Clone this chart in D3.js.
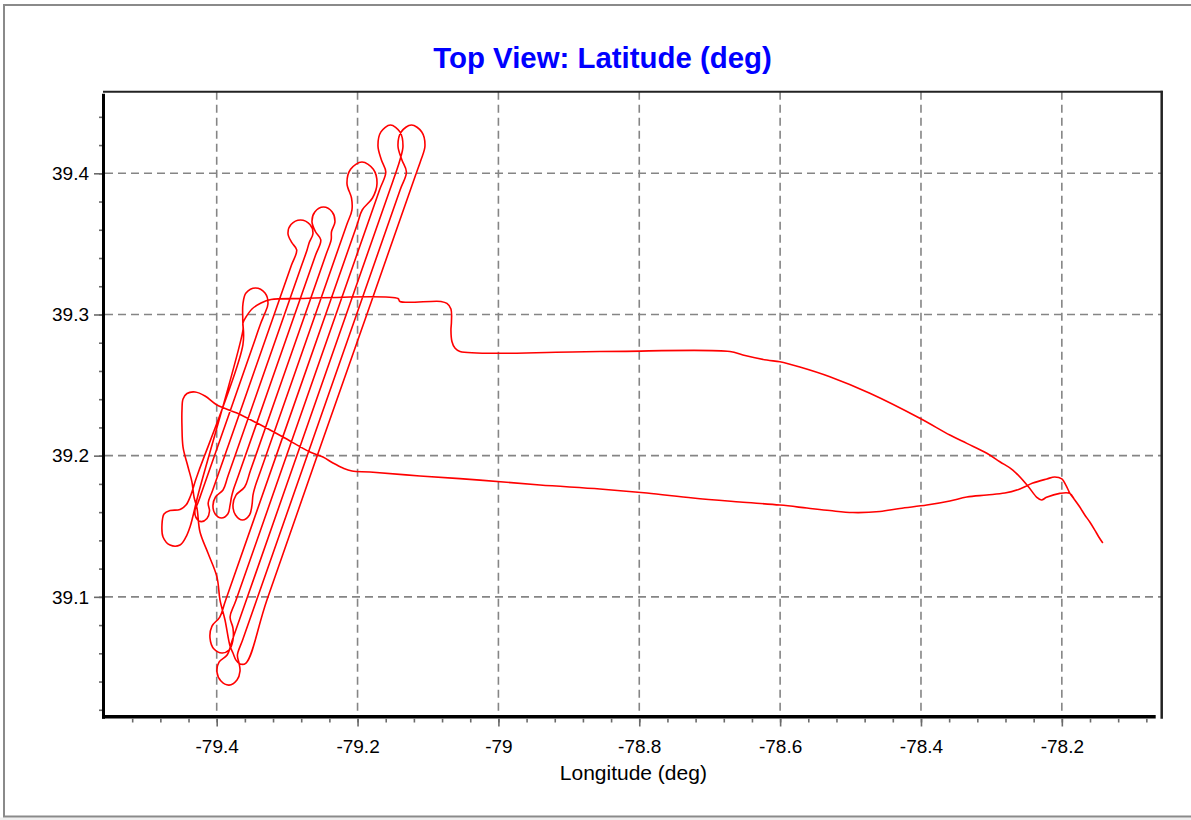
<!DOCTYPE html>
<html><head><meta charset="utf-8">
<script src="https://cdn.jsdelivr.net/npm/d3@7"></script>
<style>html,body{margin:0;padding:0;background:#fff;}svg{display:block;font-family:"Liberation Sans",Arial,sans-serif;}</style>
</head><body><svg id="chart" width="1191" height="820"></svg>
<script>
const chartTitle = "Top View: Latitude (deg)";
const xAxisTitle = "Longitude (deg)";
const xTickValues = [-79.4, -79.2, -79, -78.8, -78.6, -78.4, -78.2];
const xTickLabels = ["-79.4", "-79.2", "-79", "-78.8", "-78.6", "-78.4", "-78.2"];
const yTickValues = [39.1, 39.2, 39.3, 39.4];
const yTickLabels = ["39.1", "39.2", "39.3", "39.4"];
const xDomain = [-79.5586, -78.0582];
const yDomain = [39.0151, 39.4578];
const xMinorStep = 0.04, yMinorStep = 0.02;

// flight track, [longitude, latitude]
const legInbound = [
[-78.1418,39.1381],[-78.1475,39.1424],[-78.1532,39.1473],[-78.1603,39.1530],[-78.1674,39.1580],
[-78.1745,39.1636],[-78.1816,39.1686],[-78.1887,39.1735],[-78.1943,39.1792],[-78.2000,39.1835],
[-78.2100,39.1849],[-78.2213,39.1835],[-78.2412,39.1806],[-78.2596,39.1764],[-78.2809,39.1735],
[-78.3065,39.1721],[-78.3349,39.1707],[-78.3590,39.1679],[-78.3917,39.1650],[-78.4300,39.1626],
[-78.4584,39.1604],[-78.4967,39.1597],[-78.5294,39.1611],[-78.5620,39.1629],[-78.6003,39.1650],
[-78.6571,39.1672],[-78.7238,39.1700],[-78.7891,39.1735],[-78.8559,39.1764],[-78.9410,39.1792],
[-79.0262,39.1827],[-79.1114,39.1856],[-79.1824,39.1884],[-79.2079,39.1891],[-79.2207,39.1912],
[-79.2349,39.1948],[-79.2491,39.1990],[-79.2676,39.2026],[-79.3059,39.2132],[-79.3428,39.2231],
[-79.3712,39.2302],[-79.3996,39.2359],[-79.4166,39.2423],[-79.4308,39.2451],[-79.4422,39.2440],
[-79.4478,39.2401],[-79.4493,39.2323],[-79.4493,39.2203],[-79.4478,39.2061],[-79.4407,39.1920],
[-79.4351,39.1813],[-79.4322,39.1707],[-79.4280,39.1629],[-79.4237,39.1459],[-79.4124,39.1310],
[-79.3996,39.1140],[-79.3953,39.0977],[-79.3882,39.0836],[-79.3811,39.0652],[-79.3769,39.0602],
[-79.3726,39.0552],[-79.3669,39.0524],[-79.3584,39.0531]
];
const surveyLines = [
[-79.3287,39.0977],[-79.1796,39.3103],[-79.1250,39.3882],
[-79.1160,39.4009],[-79.1100,39.4094],[-79.1043,39.4193],[-79.1088,39.4293],[-79.1235,39.4342],
[-79.1381,39.4293],[-79.1426,39.4193],[-79.1370,39.4094],[-79.1306,39.4009],
[-79.1396,39.3882],[-79.1942,39.3103],[-79.3433,39.0977],[-79.3632,39.0694],
[-79.3706,39.0588],[-79.3683,39.0531],[-79.3669,39.0474],[-79.3712,39.0411],[-79.3825,39.0375],
[-79.3939,39.0404],[-79.3996,39.0467],[-79.3967,39.0538],[-79.3852,39.0588],
[-79.3778,39.0694],[-79.3579,39.0977],[-79.2089,39.3103],[-79.1542,39.3882],
[-79.1453,39.4009],[-79.1398,39.4094],[-79.1355,39.4193],[-79.1398,39.4293],[-79.1533,39.4342],
[-79.1668,39.4293],[-79.1710,39.4193],[-79.1661,39.4094],[-79.1599,39.4009],
[-79.1688,39.3882],[-79.2235,39.3103],[-79.3725,39.0977],
[-79.3810,39.0857],[-79.3769,39.0779],[-79.3769,39.0694],[-79.3825,39.0623],[-79.3925,39.0602],
[-79.4038,39.0630],[-79.4095,39.0708],[-79.4067,39.0793],[-79.3956,39.0857],
[-79.3872,39.0977],[-79.2381,39.3103],[-79.2008,39.3634],
[-79.1934,39.3740],[-79.1788,39.3825],[-79.1724,39.3927],[-79.1776,39.4029],[-79.1937,39.4080],
[-79.2099,39.4029],[-79.2150,39.3927],[-79.2086,39.3825],[-79.2080,39.3740],
[-79.2155,39.3634],[-79.2527,39.3103],[-79.3372,39.1898],
[-79.3456,39.1778],[-79.3485,39.1721],[-79.3499,39.1650],[-79.3534,39.1580],[-79.3634,39.1544],
[-79.3733,39.1580],[-79.3769,39.1650],[-79.3726,39.1721],[-79.3603,39.1778],
[-79.3518,39.1898],[-79.2673,39.3103],[-79.2450,39.3421],
[-79.2375,39.3528],[-79.2370,39.3586],[-79.2321,39.3656],[-79.2360,39.3726],[-79.2484,39.3761],
[-79.2607,39.3726],[-79.2647,39.3656],[-79.2597,39.3586],[-79.2522,39.3528],
[-79.2596,39.3421],[-79.2820,39.3103],[-79.3689,39.1863],
[-79.3764,39.1757],[-79.3790,39.1707],[-79.3811,39.1648],[-79.3840,39.1588],[-79.3932,39.1558],
[-79.4024,39.1588],[-79.4053,39.1648],[-79.4017,39.1707],[-79.3910,39.1757],
[-79.3835,39.1863],[-79.2966,39.3103],[-79.2792,39.3350],
[-79.2717,39.3457],[-79.2686,39.3510],[-79.2633,39.3574],[-79.2676,39.3637],[-79.2810,39.3669],
[-79.2945,39.3637],[-79.2988,39.3574],[-79.2935,39.3510],[-79.2864,39.3457],
[-79.2938,39.3350],[-79.3112,39.3103],[-79.4056,39.1757],
[-79.4121,39.1665],[-79.4102,39.1608],[-79.4138,39.1555],[-79.4223,39.1533],[-79.4294,39.1562],
[-79.4308,39.1615],[-79.4267,39.1665],
[-79.4202,39.1757],[-79.3457,39.2819],
[-79.3373,39.2940],[-79.3321,39.3003],[-79.3272,39.3076],[-79.3314,39.3152],[-79.3449,39.3188],
[-79.3584,39.3152],[-79.3627,39.3076],[-79.3630,39.2961],[-79.3628,39.2784],
[-79.4249,39.1898],[-79.4299,39.1827],[-79.4372,39.1714],[-79.4436,39.1650],[-79.4521,39.1618],
[-79.4663,39.1611],[-79.4748,39.1587],[-79.4777,39.1509],[-79.4762,39.1424],[-79.4663,39.1367],
[-79.4521,39.1367],[-79.4436,39.1424],[-79.4379,39.1495],[-79.4344,39.1558],
[-79.4265,39.1721],[-79.3627,39.2890],[-79.3627,39.2940]
];
const legOutbound = [
[-79.3584,39.2982],[-79.3499,39.3039],[-79.3371,39.3081],[-79.3229,39.3106],[-79.2818,39.3113],
[-79.1426,39.3113],[-79.1398,39.3092],[-79.0816,39.3092],[-79.0731,39.3078],[-79.0674,39.3039],
[-79.0667,39.2947],[-79.0674,39.2890],[-79.0660,39.2809],[-79.0617,39.2762],[-79.0546,39.2738],
[-78.8559,39.2738],[-78.6713,39.2738],[-78.6529,39.2713],[-78.6188,39.2677],[-78.6003,39.2665],
[-78.5720,39.2628],[-78.5294,39.2559],[-78.4726,39.2442],[-78.4016,39.2265],[-78.3590,39.2146],
[-78.3349,39.2087],[-78.3065,39.2017],[-78.2880,39.1957],[-78.2696,39.1898],[-78.2483,39.1785],
[-78.2355,39.1705],[-78.2288,39.1686],[-78.2217,39.1705],[-78.2029,39.1733],[-78.1887,39.1733],
[-78.1816,39.1686],[-78.1745,39.1636],[-78.1674,39.1580],[-78.1603,39.1530],[-78.1532,39.1473],
[-78.1475,39.1424],[-78.1418,39.1381]
];

const W = 1191, H = 820;
const plot = {left: 105, top: 91.7, right: 1161.7, bottom: 716.7};
const svg = d3.select("#chart");
const x = d3.scaleLinear().domain(xDomain).range([plot.left, plot.right]);
const y = d3.scaleLinear().domain(yDomain).range([plot.bottom, plot.top]);

svg.append("rect").attr("width", W).attr("height", H).attr("fill", "#fff");
svg.append("rect").attr("x", 0).attr("y", 817.5).attr("width", W).attr("height", 3).attr("fill", "#efefef");
svg.append("path").attr("d", "M1191,5H4V816.5H1191").attr("fill", "none")
  .attr("stroke", "#8a8a8a").attr("stroke-width", 2);

// grid
const grid = svg.append("g").attr("stroke", "#858585").attr("stroke-width", 1.6).attr("stroke-dasharray", "8,5");
grid.selectAll("line.gv").data(xTickValues).join("line").attr("class", "gv")
  .attr("x1", d => x(d)).attr("x2", d => x(d)).attr("y1", plot.top).attr("y2", plot.bottom);
grid.selectAll("line.gh").data(yTickValues).join("line").attr("class", "gh")
  .attr("y1", d => y(d)).attr("y2", d => y(d)).attr("x1", plot.left).attr("x2", plot.right);

// track
svg.append("clipPath").attr("id", "clip").append("rect")
  .attr("x", plot.left).attr("y", plot.top).attr("width", plot.right - plot.left).attr("height", plot.bottom - plot.top);
const track = legInbound.concat(surveyLines, legOutbound);
const line = d3.line().x(d => x(d[0])).y(d => y(d[1])).curve(d3.curveCatmullRom.alpha(0.5));
svg.append("path").datum(track).attr("clip-path", "url(#clip)").attr("d", line)
  .attr("fill", "none").attr("stroke", "#ff0000").attr("stroke-width", 1.6).attr("stroke-linejoin", "round");

// frame of plot
svg.append("line").attr("x1", plot.left - 2).attr("x2", plot.right + 1).attr("y1", plot.top).attr("y2", plot.top)
  .attr("stroke", "#222").attr("stroke-width", 2);
svg.append("line").attr("x1", plot.right).attr("x2", plot.right).attr("y1", plot.top - 1).attr("y2", plot.bottom + 2)
  .attr("stroke", "#222").attr("stroke-width", 2.5);
svg.append("line").attr("x1", plot.left - 1.5).attr("x2", plot.left - 1.5).attr("y1", plot.top + 2).attr("y2", plot.bottom + 2)
  .attr("stroke", "#000").attr("stroke-width", 3);
svg.append("line").attr("x1", plot.left - 3).attr("x2", plot.right - 6).attr("y1", plot.bottom).attr("y2", plot.bottom)
  .attr("stroke", "#000").attr("stroke-width", 3.5);

// minor ticks
const xMinor = d3.range(Math.ceil(xDomain[0] / xMinorStep), Math.floor(xDomain[1] / xMinorStep) + 1).map(k => k * xMinorStep);
const yMinor = d3.range(Math.ceil(yDomain[0] / yMinorStep), Math.floor(yDomain[1] / yMinorStep) + 1).map(k => k * yMinorStep);
const xMinorAxis = svg.append("g").attr("transform", `translate(0,${plot.bottom + 1.8})`)
  .call(d3.axisBottom(x).tickValues(xMinor).tickSize(4).tickFormat(""));
const yMinorAxis = svg.append("g").attr("transform", `translate(${plot.left - 3},0)`)
  .call(d3.axisLeft(y).tickValues(yMinor).tickSize(3).tickFormat(""));

// major axes
const xAxis = svg.append("g").attr("transform", `translate(0,${plot.bottom + 1.8})`)
  .call(d3.axisBottom(x).tickValues(xTickValues).tickSize(8).tickFormat((d, i) => xTickLabels[i]));
const yAxis = svg.append("g").attr("transform", `translate(${plot.left - 3},0)`)
  .call(d3.axisLeft(y).tickValues(yTickValues).tickSize(8).tickFormat((d, i) => yTickLabels[i]));

[xMinorAxis, yMinorAxis, xAxis, yAxis].forEach(g => {
  g.select(".domain").remove();
  g.selectAll(".tick line").attr("stroke", "#6a6a6a").attr("stroke-width", 1.6);
});
xAxis.selectAll(".tick text").attr("y", 34).attr("dy", null)
  .attr("font-size", 19).attr("fill", "#000").attr("font-family", "'Liberation Sans', Arial, sans-serif");
yAxis.selectAll(".tick text").attr("x", -13).attr("dy", "0.33em")
  .attr("font-size", 19).attr("fill", "#000").attr("font-family", "'Liberation Sans', Arial, sans-serif");

// titles
svg.append("text").attr("x", 602.5).attr("y", 68).attr("text-anchor", "middle")
  .attr("font-size", 29.4).attr("font-weight", "bold").attr("fill", "#0000ff").text(chartTitle);
svg.append("text").attr("x", (plot.left + plot.right) / 2).attr("y", 780).attr("text-anchor", "middle")
  .attr("font-size", 21).attr("fill", "#000").text(xAxisTitle);
</script>
</body></html>
